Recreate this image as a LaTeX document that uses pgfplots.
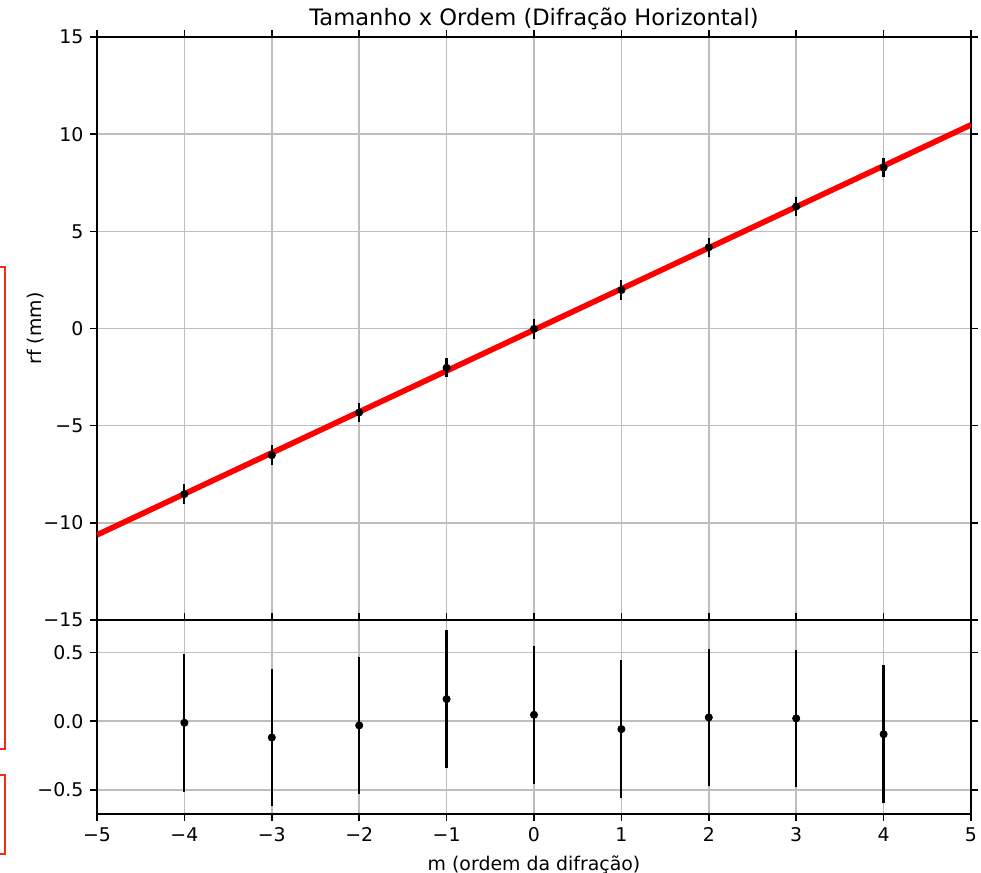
\documentclass[border=0pt]{standalone}
\usepackage{fontspec}
\setmainfont{DejaVu Sans}
\usepackage{pgfplots}
\pgfplotsset{compat=1.18}
\definecolor{fitred}{RGB}{255,0,0}
\definecolor{boxred}{RGB}{240,45,20}
\definecolor{gridgray}{RGB}{190,190,190}

\pgfplotsset{
  mplstyle/.style={
    scale only axis,
    width=437pt,
    xmin=-5, xmax=5,
    xtick={-5,-4,-3,-2,-1,0,1,2,3,4,5},
    tick align=outside,
    major tick length=3.3pt,
    tick style={line width=0.76pt, black},
    axis line style={line width=0.76pt, black},
    grid=major,
    major grid style={line width=0.76pt, gridgray},
    ticklabel style={font=\fontsize{9.45}{11}\selectfont},
    label style={font=\fontsize{9.45}{11}\selectfont},
    error bars/y dir=both,
    error bars/y explicit,
    error bars/error mark=none,
    error bars/error bar style={line width=1.1pt, black},
  },
}

\begin{document}
\begin{tikzpicture}
\begin{axis}[
  mplstyle,
  name=top,
  at={(0,0)}, anchor=south west,
  height=291.5pt,
  ymin=-15, ymax=15,
  ytick={-15,-10,-5,0,5,10,15},
  yticklabels={−15,−10,−5,0,5,10,15},
  xticklabels={},
  ylabel={rf (mm)},
  ylabel shift=-7pt,
  title={Tamanho x Ordem (Difração Horizontal)},
  title style={font=\fontsize{11.3}{13}\selectfont, yshift=-6pt},
]
  % ajuste linear
  \addplot[fitred, line width=2.8pt] coordinates {(-5,-10.62) (5,10.48)};
  % dados
  \addplot[only marks, mark=*, mark size=1.8pt, black]
    coordinates {
      (-4,-8.52) +- (0,0.5)
      (-3,-6.52) +- (0,0.5)
      (-2,-4.32) +- (0,0.5)
      (-1,-2.02) +- (0,0.5)
      (0,-0.02)  +- (0,0.5)
      (1,1.98)   +- (0,0.5)
      (2,4.18)   +- (0,0.5)
      (3,6.28)   +- (0,0.5)
      (4,8.28)   +- (0,0.5)
    };
\end{axis}

\begin{axis}[
  mplstyle,
  name=res,
  at={(0,0)}, anchor=north west,
  height=97pt,
  ymin=-0.675, ymax=0.735,
  ytick={-0.5,0,0.5},
  yticklabels={−0.5,0.0,0.5},
  xticklabels={−5,−4,−3,−2,−1,0,1,2,3,4,5},
  xlabel={m (ordem da difração)},
]
  % residuos
  \addplot[only marks, mark=*, mark size=1.8pt, black]
    coordinates {
      (-4,-0.012) +- (0,0.5)
      (-3,-0.119) +- (0,0.5)
      (-2,-0.031) +- (0,0.5)
      (-1,0.160)  +- (0,0.5)
      (0,0.046)   +- (0,0.5)
      (1,-0.058)  +- (0,0.5)
      (2,0.027)   +- (0,0.5)
      (3,0.020)   +- (0,0.5)
      (4,-0.095)  +- (0,0.5)
    };
\end{axis}

% caixas vermelhas na borda esquerda
\draw[boxred, line width=1pt] (-60pt,176.6pt) rectangle (-46pt,-64.5pt);
\draw[boxred, line width=1pt] (-60pt,-77.5pt) rectangle (-46pt,-116.8pt);

\pgfresetboundingbox
\useasboundingbox (-48.5pt,-126.5pt) rectangle (442pt,310pt);
\end{tikzpicture}
\end{document}
